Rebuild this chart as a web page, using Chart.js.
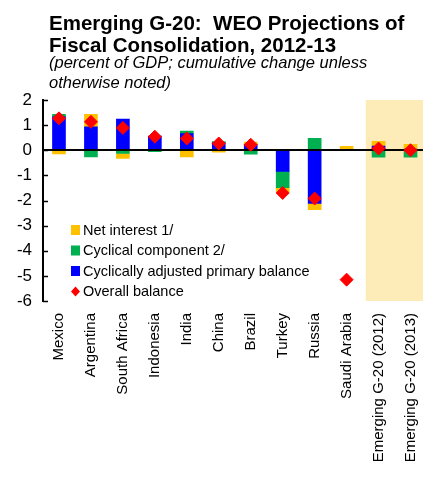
<!DOCTYPE html>
<html>
<head>
<meta charset="utf-8">
<script src="https://cdn.jsdelivr.net/npm/chart.js@4.4.0/dist/chart.umd.min.js"></script>
<style>
  html, body { margin: 0; padding: 0; background: #fff; overflow: hidden; }
  #wrap { position: relative; width: 423px; height: 482px; font-family: "Liberation Sans", Arial, sans-serif; color: #000; overflow: hidden; }
  #wrap canvas { position: absolute; left: 0; top: 0; }
  .title { position: absolute; left: 49px; top: 12px; font-weight: bold; font-size: 20.5px; line-height: 21.7px; white-space: nowrap; }
  .sub { position: absolute; left: 49px; top: 51.6px; font-style: italic; font-size: 16.5px; line-height: 20px; white-space: nowrap; }
</style>
</head>
<body>
<div id="wrap">
  <!-- plot runs slightly past the right edge; the wrapper crops it -->
  <canvas id="chart" width="434" height="482"></canvas>
  <div class="title">Emerging G-20:&nbsp; WEO Projections of<br>Fiscal Consolidation, 2012-13</div>
  <div class="sub">(percent of GDP; cumulative change unless<br>otherwise noted)</div>
</div>
<script>
"use strict";
// Stacked components of the fiscal change per country, with the overall balance as diamonds.
const categories = ["Mexico", "Argentina", "South Africa", "Indonesia", "India", "China", "Brazil",
  "Turkey", "Russia", "Saudi Arabia", "Emerging G-20 (2012)", "Emerging G-20 (2013)"];
const cyclicallyAdjusted = [1.33, 0.93, 1.24, 0.56, 0.66, 0.30, 0.23, -0.84, -2.12, null, 0.17, 0.05];
const cyclical = [0.10, -0.27, -0.13, -0.06, 0.10, 0.05, -0.16, -0.65, 0.47, null, -0.28, -0.28];
const netInterest = [-0.15, 0.50, -0.20, 0, -0.27, -0.08, 0.10, -0.17, -0.24, 0.16, 0.19, 0.19];
const overallBalance = [1.27, 1.13, 0.89, 0.54, 0.47, 0.27, 0.22, -1.70, -1.92, -5.15, 0.07, 0.0];
const yMin = -6, yMax = 2, yStep = 1;
const legendLabels = ["Net interest 1/", "Cyclical component 2/", "Cyclically adjusted primary balance", "Overall balance"];
const shadeFrom = 9.6; // the G-20 aggregates sit on a tinted band

const BLUE = "#0000ff", GREEN = "#00b050", ORANGE = "#ffc000", RED = "#ff0000";
const FONT = "'Liberation Sans', Arial, sans-serif";

// tinted band behind the aggregate columns
const shadePlugin = {
  id: "shade",
  beforeDraw(chart) {
    const { ctx, chartArea: a, scales: { x } } = chart;
    const left = x.getPixelForValue(shadeFrom);
    ctx.save();
    ctx.fillStyle = "#fdebb8";
    ctx.fillRect(left, a.top, a.right - left, a.bottom - a.top);
    ctx.restore();
  }
};

// zero line over the bars but under the diamonds, plus inward tick marks
const axisPlugin = {
  id: "axisBits",
  beforeDatasetDraw(chart, args) {
    if (args.meta.type !== "line") return;
    const { ctx, chartArea: a, scales: { y } } = chart;
    const y0 = Math.round(y.getPixelForValue(0));
    ctx.save();
    ctx.strokeStyle = "#000";
    ctx.lineWidth = 2;
    ctx.beginPath(); ctx.moveTo(a.left, y0); ctx.lineTo(a.right, y0); ctx.stroke();
    ctx.lineWidth = 1.5;
    y.ticks.forEach(t => {
      const py = Math.round(y.getPixelForValue(t.value)) + 0.5;
      ctx.beginPath(); ctx.moveTo(a.left, py); ctx.lineTo(a.left + 5, py); ctx.stroke();
    });
    ctx.restore();
  }
};

// legend drawn inside the plot, lower left
const legendPlugin = {
  id: "innerLegend",
  afterDraw(chart) {
    const { ctx, chartArea: a } = chart;
    const ds = chart.data.datasets;
    const items = [ds[2], ds[1], ds[0], ds[3]];
    ctx.save();
    ctx.font = "14.5px " + FONT;
    ctx.textBaseline = "middle";
    items.forEach((d, i) => {
      const cy = a.bottom - 71 + i * 20.5;
      ctx.fillStyle = d.backgroundColor;
      if (d.type === "line") {
        ctx.beginPath();
        ctx.moveTo(a.left + 32.5, cy - 5); ctx.lineTo(a.left + 37, cy);
        ctx.lineTo(a.left + 32.5, cy + 5); ctx.lineTo(a.left + 28, cy);
        ctx.closePath(); ctx.fill();
      } else {
        ctx.fillRect(a.left + 28, cy - 5, 9, 10);
      }
      ctx.fillStyle = "#000";
      ctx.fillText(legendLabels[i], a.left + 40, cy + 0.5);
    });
    ctx.restore();
  }
};

new Chart(document.getElementById("chart"), {
  data: {
    labels: categories,
    datasets: [
      { type: "bar", label: legendLabels[2], data: cyclicallyAdjusted, backgroundColor: BLUE, order: 1 },
      { type: "bar", label: legendLabels[1], data: cyclical, backgroundColor: GREEN, order: 1 },
      { type: "bar", label: legendLabels[0], data: netInterest, backgroundColor: ORANGE, order: 1 },
      { type: "line", label: legendLabels[3], data: overallBalance, stack: "overall", order: 0,
        showLine: false, pointStyle: "rectRot", pointRadius: 6.5, pointHoverRadius: 6.5,
        backgroundColor: RED, borderColor: RED, borderWidth: 1 }
    ]
  },
  options: {
    responsive: false,
    animation: false,
    devicePixelRatio: 1,
    layout: { padding: { top: 100, left: 0, right: 0, bottom: 0 } },
    datasets: { bar: { barThickness: 13 } },
    plugins: { legend: { display: false }, tooltip: { enabled: false } },
    scales: {
      x: {
        stacked: true,
        grid: { display: false },
        border: { display: false },
        ticks: { autoSkip: false, minRotation: 90, maxRotation: 90, padding: 4, color: "#000", font: { family: FONT, size: 15 } },
        afterFit(s) { s.height = 181; }
      },
      y: {
        stacked: true,
        min: yMin, max: yMax,
        grid: { display: false, drawTicks: false },
        border: { display: true, color: "#000", width: 2 },
        ticks: { stepSize: yStep, padding: 11, color: "#000", font: { family: FONT, size: 17 } },
        afterFit(s) { s.width = 43; }
      }
    }
  },
  plugins: [shadePlugin, axisPlugin, legendPlugin]
});
</script>
</body>
</html>
